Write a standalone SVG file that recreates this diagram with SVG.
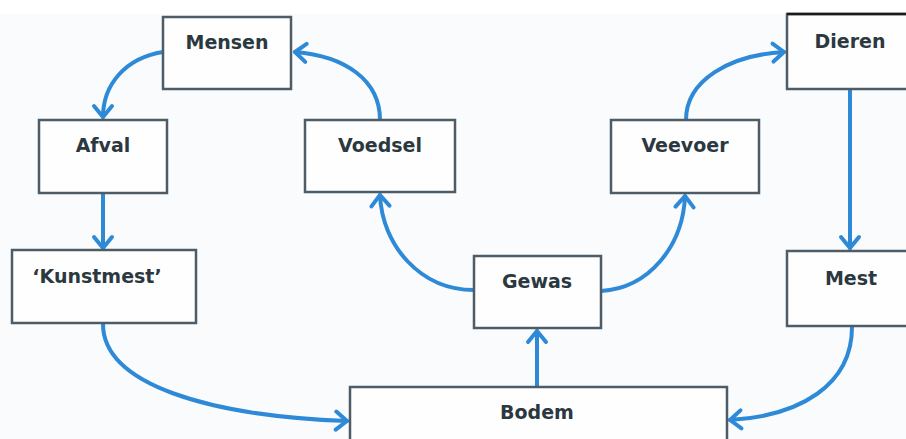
<svg xmlns="http://www.w3.org/2000/svg" width="906" height="439" viewBox="0 0 906 439">
<style>
.box{fill:#fefefe;stroke:#4d5c66;stroke-width:2.5}
.lbl{font-family:"DejaVu Sans",Verdana,sans-serif;font-size:19px;font-weight:bold;fill:#2b3840;text-anchor:middle}
.con{fill:none;stroke:#2e8ad6;stroke-width:4;stroke-linecap:round;marker-end:url(#ah)}
</style>
<defs>
<marker id="ah" markerUnits="userSpaceOnUse" viewBox="-14 -12 18 24" markerWidth="18" markerHeight="24" refX="0" refY="0" orient="auto">
<path d="M-11,-9 L0,0 L-11,9" fill="none" stroke="#2e8ad6" stroke-width="4" stroke-linecap="round" stroke-linejoin="round"/>
</marker>
</defs>
<rect x="0" y="0" width="906" height="439" fill="#ffffff"/>
<rect x="0" y="14" width="906" height="425" fill="#f9fbfd"/>
<g id="connectors">
<path class="con" d="M380,120 C380,80 345,56 295,52"/>
<path class="con" d="M163,52 C125,58 103,85 103,117"/>
<path class="con" d="M103,193 L103,248"/>
<path class="con" d="M103,324 C103,385 210,416 347,421"/>
<path class="con" d="M537,387 L537,331"/>
<path class="con" d="M474,290 C420,290 382,245 380,195"/>
<path class="con" d="M601,291 C650,288 683,245 685,196"/>
<path class="con" d="M686,120 C686,80 730,55 784,52"/>
<path class="con" d="M850,89 L850,248"/>
<path class="con" d="M852,327 C852,385 800,416 730,420"/>
</g>
<g id="mensen"><rect class="box" x="163" y="17" width="128" height="72"/><text class="lbl" x="227" y="49">Mensen</text></g>
<g id="afval"><rect class="box" x="39" y="120" width="128" height="73"/><text class="lbl" x="103" y="152">Afval</text></g>
<g id="voedsel"><rect class="box" x="305" y="120" width="150" height="72"/><text class="lbl" x="380" y="152">Voedsel</text></g>
<g id="veevoer"><rect class="box" x="611" y="120" width="148" height="73"/><text class="lbl" x="685" y="152">Veevoer</text></g>
<g id="dieren"><rect class="box" x="787" y="14" width="130" height="75"/><line x1="787" y1="14" x2="906" y2="14" stroke="#1a1a1a" stroke-width="2.5"/><text class="lbl" x="850" y="48">Dieren</text></g>
<g id="kunstmest"><rect class="box" x="12" y="250" width="184" height="73"/><text class="lbl" x="97" y="283">‘Kunstmest’</text></g>
<g id="gewas"><rect class="box" x="474" y="256" width="127" height="72"/><text class="lbl" x="537" y="288">Gewas</text></g>
<g id="mest"><rect class="box" x="787" y="251" width="130" height="75"/><text class="lbl" x="851" y="285">Mest</text></g>
<g id="bodem"><rect class="box" x="350" y="387" width="377" height="70"/><text class="lbl" x="537" y="419">Bodem</text></g>
</svg>
